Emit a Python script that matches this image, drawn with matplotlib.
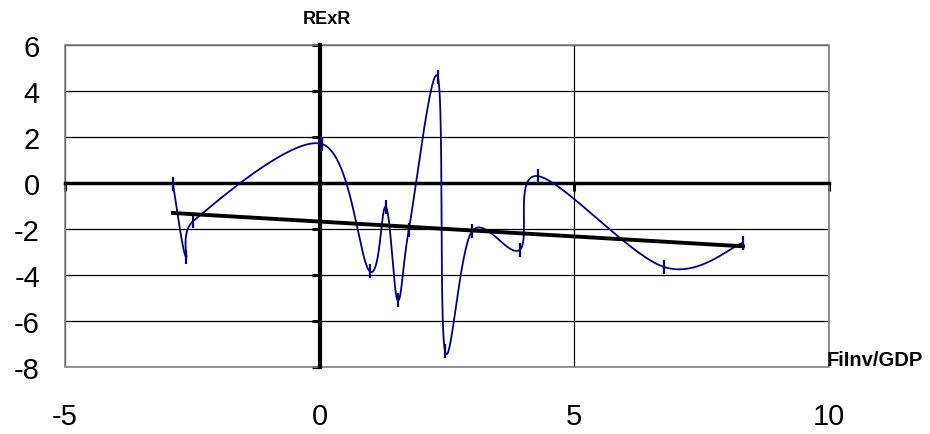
import matplotlib
matplotlib.use('Agg')
import matplotlib.pyplot as plt
import numpy as np
from matplotlib.patches import Rectangle

# Financial investment / GDP against the real exchange rate
fi_inv_gdp = [-2.88, -2.63, -2.48, 0.04, 0.98, 1.30, 1.53, 1.75,
              2.32, 2.46, 2.99, 3.93, 4.28, 6.76, 8.31]
rexr = [-0.05, -3.20, -1.65, 1.70, -3.83, -1.04, -5.10, -2.04,
        4.60, -7.30, -2.10, -2.90, 0.30, -3.65, -2.60]

x_ticks = [-5, 0, 5, 10]
y_ticks = [-8, -6, -4, -2, 0, 2, 4, 6]


def smooth_curve(ax, xs, ys, steps=40):
    """
    Spreadsheet style smoothing: cubic Bezier through every point, control
    points at 1/6 of the neighbour chord, never longer than half the segment.
    Worked out in display pixels so the clamp follows the on-screen shape.
    """
    pts = ax.transData.transform(np.column_stack([xs, ys]))
    n = len(pts)
    out = []
    t = np.linspace(0, 1, steps)[:, None]
    for i in range(n - 1):
        p0 = pts[max(i - 1, 0)]
        p1 = pts[i]
        p2 = pts[i + 1]
        p3 = pts[min(i + 2, n - 1)]
        d12 = np.hypot(*(p2 - p1))
        v1 = (p2 - p0) / 6
        v2 = (p3 - p1) / 6
        for v in (v1, v2):
            length = np.hypot(*v)
            if length > d12 / 2:
                v *= (d12 / 2) / length
        c1 = p1 + v1
        c2 = p2 - v2
        seg = ((1 - t) ** 3) * p1 + 3 * ((1 - t) ** 2) * t * c1 \
            + 3 * (1 - t) * t ** 2 * c2 + t ** 3 * p2
        out.append(seg if i == 0 else seg[1:])
    curve = ax.transData.inverted().transform(np.vstack(out))
    return curve[:, 0], curve[:, 1]


def main():
    plt.rcParams['font.family'] = ['Liberation Sans', 'DejaVu Sans']

    fig = plt.figure(figsize=(9.3, 4.34), dpi=100)
    ax = fig.add_axes([65 / 930, 1 - 367 / 434, 764 / 930, 322 / 434])
    ax.set_xlim(x_ticks[0], x_ticks[-1])
    ax.set_ylim(y_ticks[0], y_ticks[-1])

    # gridlines underneath everything
    ax.set_axisbelow(True)
    ax.set_xticks(x_ticks)
    ax.set_yticks(y_ticks)
    ax.grid(True, color='black', linewidth=0.9)

    # axes cross at the origin
    ax.spines['left'].set_position(('data', 0))
    ax.spines['bottom'].set_position(('data', 0))
    ax.spines['left'].set_linewidth(3.0)
    ax.spines['bottom'].set_linewidth(2.5)
    ax.spines['top'].set_visible(False)
    ax.spines['right'].set_visible(False)
    ax.tick_params(direction='out', length=6, width=2.2, color='black',
                   labelleft=False, labelbottom=False)

    # plot area border
    ax.add_patch(Rectangle((0, 0), 1, 1, transform=ax.transAxes, fill=False,
                           edgecolor='#808080', linewidth=1.2, zorder=1,
                           clip_on=False))

    # tick labels sit along the edges of the plot area
    for v in x_ticks:
        ax.annotate(str(v), xy=(v, 0), xycoords=('data', 'axes fraction'),
                    xytext=(0, -36), textcoords='offset points',
                    ha='center', va='center', fontsize=21)
    for v in y_ticks:
        ax.annotate(str(v), xy=(0, v), xycoords=('axes fraction', 'data'),
                    xytext=(-18, -3), textcoords='offset points',
                    ha='right', va='center', fontsize=21)

    # smoothed series with dash markers
    sx, sy = smooth_curve(ax, fi_inv_gdp, rexr)
    ax.plot(sx, sy, color='#000080', linewidth=1.3, zorder=3)
    ax.plot(fi_inv_gdp, rexr, linestyle='none', marker='|', markersize=9.5,
            markeredgewidth=1.6, color='#000080', zorder=3)

    # linear trend
    slope, intercept = np.polyfit(fi_inv_gdp, rexr, 1)
    tx = np.array([min(fi_inv_gdp), max(fi_inv_gdp)])
    ax.plot(tx, slope * tx + intercept, color='black', linewidth=2.8, zorder=4)

    fig.text(327 / 930, 1 - 20 / 434, 'RExR', fontsize=13, fontweight='bold',
             ha='center', va='center')
    fig.text(827 / 930, 1 - 360 / 434, 'FiInv/GDP', fontsize=14.5,
             fontweight='bold', ha='left', va='center')

    fig.savefig('out.png', dpi=100)


if __name__ == '__main__':
    main()
